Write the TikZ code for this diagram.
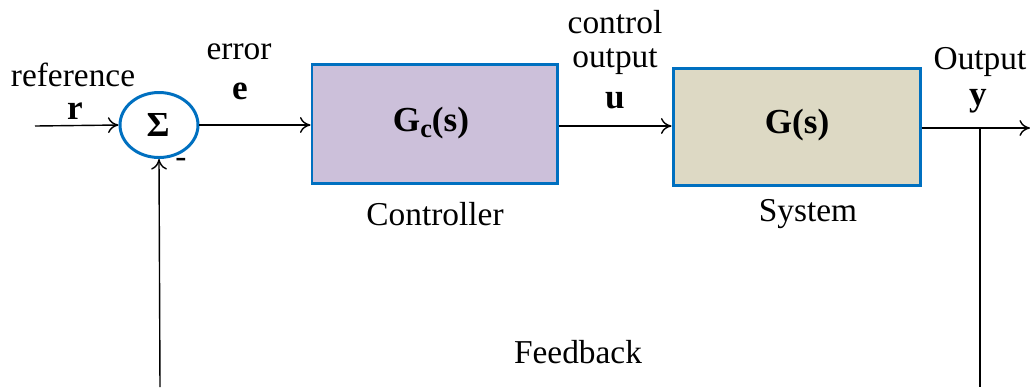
\documentclass[tikz,border=0pt]{standalone}
\usepackage{fontspec}
\setmainfont{Liberation Serif}
\usetikzlibrary{shapes.geometric,arrows.meta}
\definecolor{edgeblue}{HTML}{0070C0}
\definecolor{ctrlfill}{HTML}{CCC0DA}
\definecolor{sysfill}{HTML}{DDD9C4}
\tikzset{
  blockbox/.style={draw=edgeblue, line width=1.7pt, minimum height=119*0.02cm, inner sep=0pt},
  lbl/.style={font=\fontsize{19}{22}\selectfont, inner sep=0pt},
  blbl/.style={font=\fontsize{20}{22}\selectfont\bfseries, inner sep=0pt},
  wire/.style={line width=0.8pt, -{To[length=6pt,width=9pt]}},
  plain/.style={line width=0.8pt}
}
\begin{document}
\begin{tikzpicture}[x=0.02cm,y=-0.02cm]
\useasboundingbox (0,0) rectangle (1030,387);
% summing junction
\node[ellipse, draw=edgeblue, line width=1.7pt, minimum width=78*0.02cm, minimum height=65*0.02cm, inner sep=0pt] (sum) at (159,125) {};
\node[blbl] (sigma) at (158,125) {Σ};
\node[lbl] (minus) at (181,163) {-};
% blocks
\node[blockbox, fill=ctrlfill, minimum width=245*0.02cm] (ctrl) at (434.5,124) {};
\node[blbl] (gc) at (431,123) {G\raisebox{-0.35ex}{\fontsize{15}{16}\selectfont c}(s)};
\node[blockbox, fill=sysfill, minimum width=247*0.02cm, minimum height=117*0.02cm] (sys) at (796.5,126.5) {};
\node[blbl] (gs) at (797,125) {G(s)};
% labels
\node[lbl] (reflbl) at (73,75) {reference};
\node[blbl] (rlbl) at (75,111) {r};
\node[lbl] (errlbl) at (239,52) {error};
\node[blbl] (elbl) at (240,91) {e};
\node[lbl] (ctl1) at (615,22) {control};
\node[lbl] (ctl2) at (615,62) {output};
\node[blbl] (ulbl) at (615,101) {u};
\node[lbl] (outlbl) at (980,62) {Output};
\node[blbl] (ylbl) at (978,101) {y};
\node[lbl] (ctrllbl) at (435,214) {Controller};
\node[lbl] (syslbl) at (808,214) {System};
\node[lbl] (fblbl) at (578,352) {Feedback};
% coordinates
\coordinate (in) at (35,126);
\coordinate (outend) at (1030,128);
\coordinate (branch) at (980,128);
\coordinate (rbot) at (980,387);
\coordinate (lbot) at (160,387);
% wires
\draw[wire] (in) -- (sum.west);
\draw[wire] (sum.east) -- (ctrl.west |- sum.east);
\draw[wire] (ctrl.east |- 0,126) -- (sys.west |- 0,126);
\draw[wire] (sys.east |- branch) -- (outend);
\draw[plain] (branch) -- (rbot);
\draw[wire] (lbot) -- (sum.south);
\end{tikzpicture}
\end{document}
